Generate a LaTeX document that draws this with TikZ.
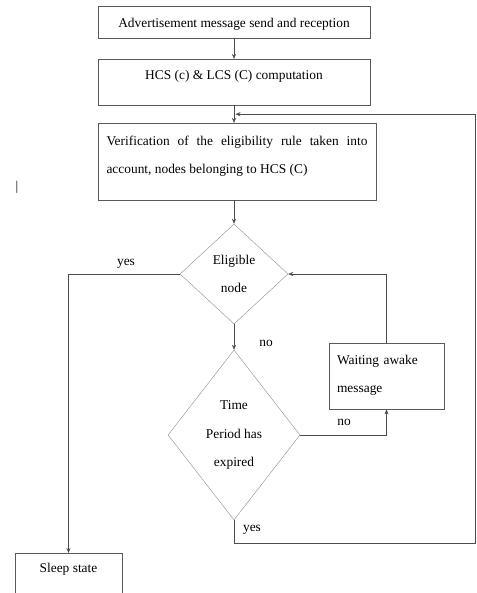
\documentclass[tikz,border=0pt]{standalone}
\usepackage{fontspec}
\setmainfont{Liberation Serif}
\usetikzlibrary{shapes.geometric,arrows.meta,calc}

\tikzset{
	flowbox/.style={draw=black!65, rectangle, inner ysep=0pt, font=\fontsize{13.4}{28}\selectfont},
	decision/.style={draw=black!45, diamond, inner sep=0pt, align=center, font=\fontsize{13.4}{28.5}\selectfont},
	flowline/.style={draw=black!70, -{Stealth[length=5pt,width=4pt]}},
	answer/.style={font=\fontsize{13.4}{14}\selectfont}
}

\begin{document}
\begin{tikzpicture}[x=1pt, y=-1pt]
	\useasboundingbox (0,0) rectangle (476,593);
	\clip (0,0) rectangle (476,593);

	% Process boxes
	\node[flowbox, anchor=north, minimum width=272pt, text height=21pt, text depth=11pt] (advert) at (234,6) {Advertisement message send and reception};
	\node[flowbox, anchor=north, minimum width=272pt, text height=20pt, text depth=26pt] (compute) at (234,59) {HCS (c) \& LCS (C) computation};
	\node[flowbox, anchor=north, text width=261pt, inner xsep=8.5pt, align=justify, text height=22pt, text depth=55pt] (verify) at (237,123) {Verification of the eligibility rule taken into\linebreak account, nodes belonging to HCS (C)};

	% Decisions
	\node[decision, minimum width=108pt, minimum height=100pt] (eligible) at (234,274) {Eligible\\node};
	\node[decision, minimum width=132pt, minimum height=170pt] (expired) at (234,435) {Time\\Period has\\expired};

	% Waiting and sleep boxes
	\node[flowbox, anchor=north, text width=99pt, inner xsep=8pt, align=left, text height=21pt, text depth=45pt] (waiting) at (386.5,343) {Waiting awake\\message};
	\node[flowbox, anchor=north, minimum width=107pt, text height=19pt, text depth=40pt] (sleep) at (68.5,553) {Sleep state};

	% Stray mark
	\node[answer] (mark) at (17,187) {|};

	% Labels
	\node[answer] (yesleft) at (126,264) {yes};
	\node[answer] (nodown) at (266,343) {no};
	\node[answer] (noright) at (344,422) {no};
	\node[answer] (yesdown) at (252,530) {yes};

	% Connectors
	\coordinate (merge) at ($(compute.south)!0.5!(verify.north)$);
	\coordinate (loopcorner) at (475,543);
	\draw[flowline] (advert) -- (compute);
	\draw[flowline] (compute.south) -- (compute.south |- verify.north);
	\draw[flowline] (verify.south -| eligible.north) -- (eligible.north);
	\draw[flowline] (eligible.west) -| (sleep.north);
	\draw[flowline] (eligible.south) -- (expired.north);
	\draw[flowline] (expired.east) -| (waiting.south);
	\draw[flowline] (waiting.north) |- (eligible.east);
	\draw[flowline] (expired.south) |- (loopcorner) |- (merge);
\end{tikzpicture}
\end{document}
